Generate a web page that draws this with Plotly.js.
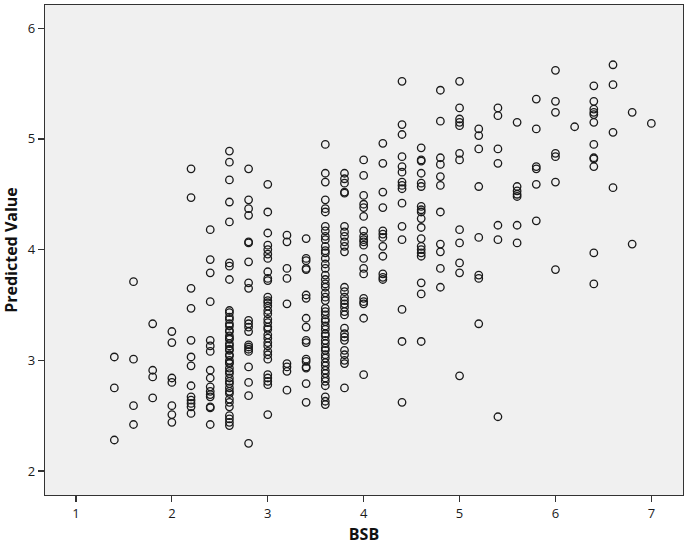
<!DOCTYPE html>
<html>
<head>
<meta charset="utf-8">
<script src="https://cdn.plot.ly/plotly-3.0.1.min.js"></script>
<style>html,body{margin:0;padding:0;background:#fff;}#chart{width:685px;height:545px;}</style>
</head>
<body>
<div id="chart"></div>
<script>
// BSB levels (x) and predicted values at each level (y)
const bsbLevels = [1.4, 1.6, 1.8, 2.0, 2.2, 2.4, 2.6, 2.8, 3.0, 3.2, 3.4, 3.6, 3.8, 4.0, 4.2, 4.4, 4.6, 4.8, 5.0, 5.2, 5.4, 5.6, 5.8, 6.0, 6.2, 6.4, 6.6, 6.8, 7.0];

const pred14 = [3.03, 2.75, 2.28];
const pred16 = [3.71, 3.01, 2.59, 2.42];
const pred18 = [3.33, 2.91, 2.85, 2.66];
const pred20 = [3.26, 3.16, 2.84, 2.80, 2.59, 2.51, 2.44];
const pred22 = [4.73, 4.47, 3.65, 3.47, 3.18, 3.03, 2.95, 2.77, 2.67, 2.64, 2.61, 2.58, 2.52];
const pred24 = [4.18, 3.91, 3.79, 3.53, 3.18, 3.13, 3.08, 2.91, 2.84, 2.76, 2.72, 2.69, 2.67, 2.58, 2.57, 2.42];
const pred26 = [4.89, 4.79, 4.63, 4.43, 4.25, 3.88, 3.85, 3.73, 3.45, 3.43, 3.39, 3.37, 3.33, 3.31, 3.27, 3.26, 3.22, 3.20, 3.19, 3.15, 3.13, 3.10, 3.09, 3.05, 3.04, 3.00, 2.98, 2.97, 2.93, 2.90, 2.88, 2.84, 2.81, 2.79, 2.75, 2.72, 2.70, 2.65, 2.62, 2.58, 2.50, 2.47, 2.44, 2.41];
const pred28 = [4.73, 4.45, 4.37, 4.31, 4.07, 4.06, 3.89, 3.70, 3.65, 3.36, 3.33, 3.30, 3.26, 3.14, 3.12, 3.10, 3.08, 2.94, 2.80, 2.68, 2.25];
const pred30 = [4.59, 4.34, 4.15, 4.04, 4.00, 3.96, 3.92, 3.80, 3.74, 3.72, 3.57, 3.54, 3.52, 3.49, 3.45, 3.42, 3.37, 3.34, 3.30, 3.28, 3.23, 3.20, 3.16, 3.13, 3.08, 3.05, 3.01, 2.87, 2.84, 2.81, 2.78, 2.51];
const pred32 = [4.13, 4.07, 3.83, 3.74, 3.51, 2.97, 2.94, 2.90, 2.73];
const pred34 = [4.10, 3.92, 3.90, 3.83, 3.82, 3.59, 3.56, 3.38, 3.30, 3.18, 3.16, 3.01, 2.99, 2.94, 2.93, 2.79, 2.62];
const pred36 = [4.95, 4.69, 4.61, 4.45, 4.37, 4.34, 4.21, 4.17, 4.12, 4.09, 4.03, 3.99, 3.97, 3.92, 3.87, 3.83, 3.77, 3.73, 3.69, 3.66, 3.61, 3.57, 3.54, 3.47, 3.44, 3.41, 3.37, 3.35, 3.31, 3.28, 3.24, 3.22, 3.18, 3.15, 3.11, 3.09, 3.05, 3.02, 2.98, 2.95, 2.91, 2.88, 2.84, 2.81, 2.77, 2.67, 2.63, 2.60];
const pred38 = [4.69, 4.64, 4.60, 4.52, 4.51, 4.21, 4.16, 4.12, 4.07, 4.03, 3.98, 3.66, 3.62, 3.57, 3.54, 3.51, 3.48, 3.44, 3.41, 3.29, 3.24, 3.21, 3.18, 3.09, 3.05, 3.00, 2.97, 2.75];
const pred40 = [4.81, 4.67, 4.49, 4.41, 4.38, 4.30, 4.17, 4.12, 4.09, 4.07, 4.04, 3.92, 3.83, 3.78, 3.56, 3.53, 3.51, 3.38, 2.87];
const pred42 = [4.96, 4.78, 4.52, 4.38, 4.17, 4.14, 4.11, 4.03, 3.94, 3.78, 3.75, 3.73];
const pred44 = [5.52, 5.13, 5.04, 4.84, 4.75, 4.70, 4.61, 4.58, 4.55, 4.42, 4.21, 4.09, 3.46, 3.17, 2.62];
const pred46 = [4.92, 4.81, 4.80, 4.69, 4.60, 4.57, 4.39, 4.36, 4.34, 4.28, 4.20, 4.10, 4.03, 4.00, 3.97, 3.94, 3.70, 3.60, 3.17];
const pred48 = [5.44, 5.16, 4.83, 4.77, 4.66, 4.58, 4.34, 4.05, 3.98, 3.83, 3.66];
const pred50 = [5.52, 5.28, 5.18, 5.15, 5.12, 4.87, 4.81, 4.18, 4.06, 3.88, 3.79, 2.86];
const pred52 = [5.09, 5.03, 4.91, 4.57, 4.11, 3.77, 3.74, 3.33];
const pred54 = [5.28, 5.21, 4.91, 4.78, 4.22, 4.09, 2.49];
const pred56 = [5.15, 4.57, 4.53, 4.50, 4.48, 4.22, 4.06];
const pred58 = [5.36, 5.09, 4.75, 4.73, 4.59, 4.26];
const pred60 = [5.62, 5.34, 5.24, 4.87, 4.84, 4.61, 3.82];
const pred62 = [5.11];
const pred64 = [5.48, 5.34, 5.27, 5.24, 5.22, 5.15, 4.95, 4.83, 4.82, 4.75, 3.97, 3.69];
const pred66 = [5.67, 5.49, 5.06, 4.56];
const pred68 = [5.24, 4.05];
const pred70 = [5.14];

const xTickVals = [1, 2, 3, 4, 5, 6, 7];
const yTickVals = [2, 3, 4, 5, 6];

const predLists = [pred14, pred16, pred18, pred20, pred22, pred24, pred26, pred28, pred30, pred32, pred34, pred36, pred38, pred40, pred42, pred44, pred46, pred48, pred50, pred52, pred54, pred56, pred58, pred60, pred62, pred64, pred66, pred68, pred70];

const xs = [], ys = [];
bsbLevels.forEach((lv, i) => {
  predLists[i].forEach(v => { xs.push(lv); ys.push(v); });
});

const trace = {
  x: xs, y: ys, type: 'scatter', mode: 'markers',
  marker: { symbol: 'circle-open', size: 7.5, color: '#1a1a1a', line: { width: 1.3, color: '#1a1a1a' } },
  hoverinfo: 'x+y'
};

const tickFont = { family: 'Open Sans, Noto Sans, sans-serif', size: 13, color: '#1a1a1a' };
const titleFont = { family: 'Open Sans, Noto Sans, sans-serif', size: 16, color: '#111', weight: 'bold' };

const layout = {
  width: 685, height: 545,
  margin: { l: 45, r: 2, t: 5, b: 50 },
  paper_bgcolor: '#ffffff',
  plot_bgcolor: '#f0f0f0',
  showlegend: false,
  xaxis: {
    range: [0.677, 7.33], tickvals: xTickVals, ticktext: xTickVals.map(String),
    showgrid: false, zeroline: false, showline: true, linecolor: '#333', linewidth: 1.3, mirror: true,
    ticks: 'outside', ticklen: 6, tickwidth: 1.2, tickcolor: '#333',
    tickfont: tickFont,
    title: { text: '<b>BSB</b>', font: titleFont, standoff: 10 }
  },
  yaxis: {
    range: [1.783, 6.21], tickvals: yTickVals, ticktext: yTickVals.map(String),
    showgrid: false, zeroline: false, showline: true, linecolor: '#333', linewidth: 1.3, mirror: true,
    ticks: 'outside', ticklen: 6, tickwidth: 1.2, tickcolor: '#333',
    tickfont: tickFont,
    title: { text: '<b>Predicted Value</b>', font: titleFont, standoff: 6 }
  }
};

Plotly.newPlot('chart', [trace], layout, { displayModeBar: false, staticPlot: true });
</script>
</body>
</html>
